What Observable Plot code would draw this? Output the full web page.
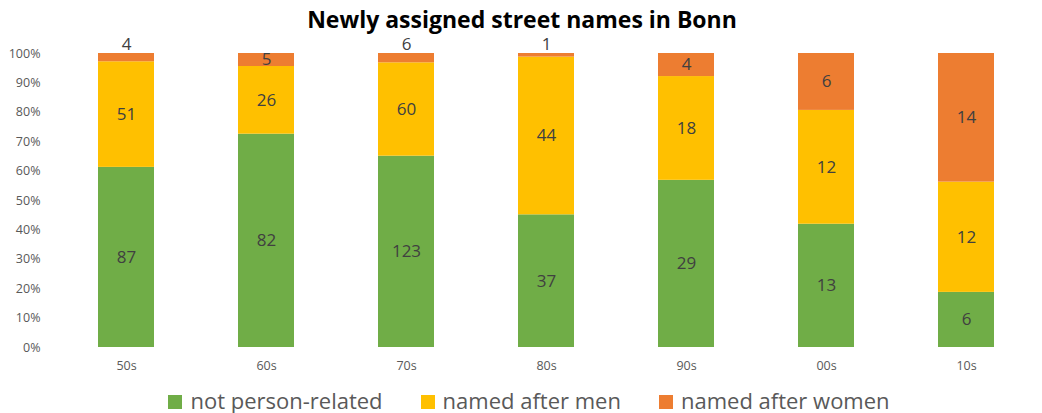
<!DOCTYPE html>
<html><head><meta charset="utf-8">
<script src="https://cdn.jsdelivr.net/npm/d3@7"></script>
<script src="https://cdn.jsdelivr.net/npm/@observablehq/plot@0.6"></script>
<style>
body{margin:0;background:#fff;font-family:"Open Sans",sans-serif;}
#title{height:34px;line-height:38px;text-align:center;font-weight:bold;font-size:23px;color:#000;margin-left:2px;}
#legend{display:flex;justify-content:center;gap:38px;font-size:22px;color:#595959;height:30px;line-height:30px;align-items:center;margin-left:16px;margin-top:7px;}
#legend span.sw{display:inline-block;width:14px;height:14px;margin-right:8px;vertical-align:middle;position:relative;top:-1px;}
</style></head>
<body>
<div id="title">Newly assigned street names in Bonn</div>
<div id="chart"></div>
<div id="legend"></div>
<script>
const decades = ["50s","60s","70s","80s","90s","00s","10s"];
const series = ["not person-related","named after men","named after women"];
const colors = ["#70AD47","#FFC000","#ED7D31"];
const notPerson = [87,82,123,37,29,13,6];
const afterMen = [51,26,60,44,18,12,12];
const afterWomen = [4,5,6,1,4,6,14];
const yTicks = [0,0.1,0.2,0.3,0.4,0.5,0.6,0.7,0.8,0.9,1];

const cols = [notPerson, afterMen, afterWomen];
const data = [];
decades.forEach((d,i)=>{
  const total = notPerson[i]+afterMen[i]+afterWomen[i];
  series.forEach((s,j)=>data.push({decade:d, cat:s, count:cols[j][i], share:cols[j][i]/total, idx:j}));
});
const small = d => d.share < 0.04;

const chart = Plot.plot({
  width:1042, height:344,
  marginTop:19, marginBottom:31, marginLeft:54, marginRight:5,
  style:{fontFamily:"Open Sans, sans-serif", overflow:"visible"},
  x:{domain:decades, paddingInner:0.6, paddingOuter:0.3, axis:null},
  y:{domain:[0,1], axis:null},
  color:{domain:series, range:colors},
  marks:[
    Plot.gridY(yTicks,{stroke:"#d9d9d9", strokeOpacity:1, strokeWidth:1, x1:54, x2:1032}),
    Plot.axisY(yTicks,{tickSize:0, tickPadding:14, tickFormat:d=>Math.round(d*100)+"%", fontSize:12.5, fill:"#595959", label:null}),
    Plot.axisX({tickSize:0, tickPadding:14, fontSize:12.5, fill:"#595959", label:null}),
    Plot.barY(data, Plot.stackY({x:"decade", y:"count", fill:"cat", offset:"normalize", order:"idx"})),
    Plot.text(data, Plot.stackY({x:"decade", y:"count", offset:"normalize", order:"idx", text:d=>small(d)?"":String(d.count), fontSize:17, fill:"#404040"})),
    Plot.text(data.filter(small), {x:"decade", y:()=>1, text:d=>String(d.count), dy:-9, fontSize:17, fill:"#404040"})
  ]
});
document.getElementById("chart").appendChild(chart);

const leg = document.getElementById("legend");
series.forEach((s,i)=>{
  const it = document.createElement("div");
  it.innerHTML = `<span class="sw" style="background:${colors[i]}"></span>${s}`;
  leg.appendChild(it);
});
</script>
</body></html>
